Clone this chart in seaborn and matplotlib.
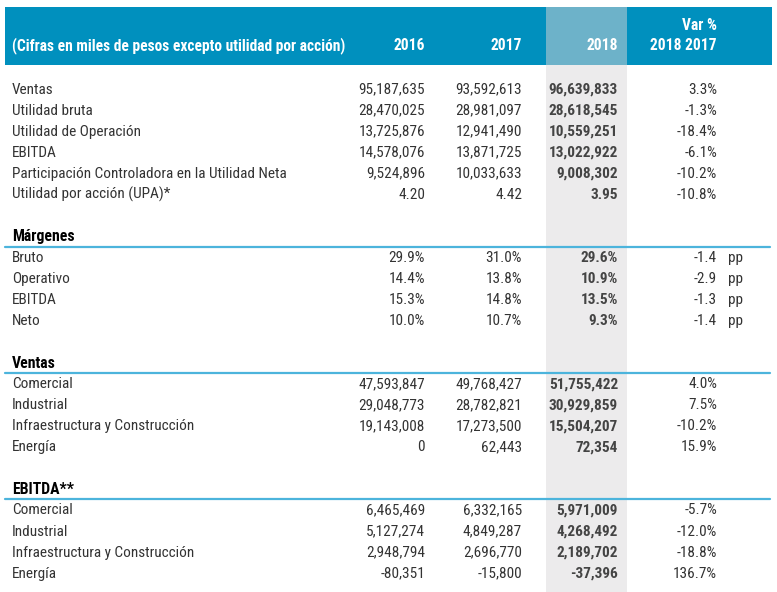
import matplotlib
matplotlib.use("Agg")
import matplotlib.pyplot as plt
import matplotlib.font_manager as fm
import seaborn as sns

# ---- data ----
header_label = "(Cifras en miles de pesos excepto utilidad por acción)"
years = ["2016", "2017", "2018"]
var_header = ["Var %", "2018 2017"]

resumen_rows = ["Ventas", "Utilidad bruta", "Utilidad de Operación", "EBITDA",
                "Participación Controladora en la Utilidad Neta", "Utilidad por acción (UPA)*"]
resumen_2016 = ["95,187,635", "28,470,025", "13,725,876", "14,578,076", "9,524,896", "4.20"]
resumen_2017 = ["93,592,613", "28,981,097", "12,941,490", "13,871,725", "10,033,633", "4.42"]
resumen_2018 = ["96,639,833", "28,618,545", "10,559,251", "13,022,922", "9,008,302", "3.95"]
resumen_var = ["3.3%", "-1.3%", "-18.4%", "-6.1%", "-10.2%", "-10.8%"]

margen_rows = ["Bruto", "Operativo", "EBITDA", "Neto"]
margen_2016 = ["29.9%", "14.4%", "15.3%", "10.0%"]
margen_2017 = ["31.0%", "13.8%", "14.8%", "10.7%"]
margen_2018 = ["29.6%", "10.9%", "13.5%", "9.3%"]
margen_var = ["-1.4", "-2.9", "-1.3", "-1.4"]

segmentos = ["Comercial", "Industrial", "Infraestructura y Construcción", "Energía"]
ventas_2016 = ["47,593,847", "29,048,773", "19,143,008", "0"]
ventas_2017 = ["49,768,427", "28,782,821", "17,273,500", "62,443"]
ventas_2018 = ["51,755,422", "30,929,859", "15,504,207", "72,354"]
ventas_var = ["4.0%", "7.5%", "-10.2%", "15.9%"]

ebitda_2016 = ["6,465,469", "5,127,274", "2,948,794", "-80,351"]
ebitda_2017 = ["6,332,165", "4,849,287", "2,696,770", "-15,800"]
ebitda_2018 = ["5,971,009", "4,268,492", "2,189,702", "-37,396"]
ebitda_var = ["-5.7%", "-12.0%", "-18.8%", "136.7%"]

sections = [
    (None, resumen_rows, resumen_2016, resumen_2017, resumen_2018, resumen_var, ""),
    ("Márgenes", margen_rows, margen_2016, margen_2017, margen_2018, margen_var, "pp"),
    ("Ventas", segmentos, ventas_2016, ventas_2017, ventas_2018, ventas_var, ""),
    ("EBITDA**", segmentos, ebitda_2016, ebitda_2017, ebitda_2018, ebitda_var, ""),
]

# ---- style ----
sns.set_style("white")
available = {f.name for f in fm.fontManager.ttflist}
family = "DejaVu Sans"
for cand in ["Roboto Condensed", "Liberation Sans Narrow", "DejaVu Sans Condensed",
             "Open Sans Condensed", "Roboto"]:
    if cand in available:
        family = cand
        break
plt.rcParams["font.family"] = [family, "DejaVu Sans"]
# ask for a condensed face only when the chosen family is not narrow already
stretch = "condensed" if family in ("Roboto", "DejaVu Sans") else "normal"

blue = "#0090BE"
blue_hi = "#6DB2C9"
gray_col = "#ECEBEC"
line_c = "#4CB4DC"
txt = "#333333"

fig = plt.figure(figsize=(7.77, 5.92), dpi=100)
ax = fig.add_axes([0, 0, 1, 1])
ax.set_xlim(0, 777)
ax.set_ylim(592, 0)
ax.axis("off")

col_x = [425, 522, 618]
var_x = 717
left_x = 12
fs = 11
fs_hdr = 11.2

# header band + highlighted 2018 column
ax.add_patch(plt.Rectangle((5, 7), 767, 58, color=blue, lw=0))
ax.add_patch(plt.Rectangle((546, 7), 81, 58, color=blue_hi, lw=0))
ax.add_patch(plt.Rectangle((546, 65), 81, 527, color=gray_col, lw=0))

hdr = dict(color="white", fontweight="bold", fontsize=fs_hdr, va="center", fontstretch=stretch)
ax.text(left_x, 46, header_label, ha="left", **hdr)
for x, y in zip(col_x, years):
    ax.text(x, 46, y, ha="right", **hdr)
ax.text(var_x, 26, var_header[0], ha="right", **hdr)
ax.text(var_x, 46, var_header[1], ha="right", **hdr)

y0, step = 89.5, 21.05
row = 0
for title, labels, v16, v17, v18, var, unit in sections:
    if title is not None:
        y = y0 + row * step
        ax.text(left_x, y, title, ha="left", va="center", fontsize=fs + 0.3,
                fontweight="bold", color="black", fontstretch=stretch)
        ax.plot([5, 770], [y + 10, y + 10], color=line_c, lw=1.6)
        row += 1
    for i, lab in enumerate(labels):
        y = y0 + row * step
        kw = dict(va="center", fontsize=fs, fontstretch=stretch)
        ax.text(left_x, y, lab, ha="left", color=txt, **kw)
        ax.text(col_x[0], y, v16[i], ha="right", color=txt, **kw)
        ax.text(col_x[1], y, v17[i], ha="right", color=txt, **kw)
        ax.text(col_x[2], y, v18[i], ha="right", fontweight="bold", color="#444444", **kw)
        ax.text(var_x, y, var[i], ha="right", color=txt, **kw)
        if unit:
            ax.text(728, y, unit, ha="left", color=txt, **kw)
        row += 1
    row += 1

fig.savefig("out.png", dpi=100)
